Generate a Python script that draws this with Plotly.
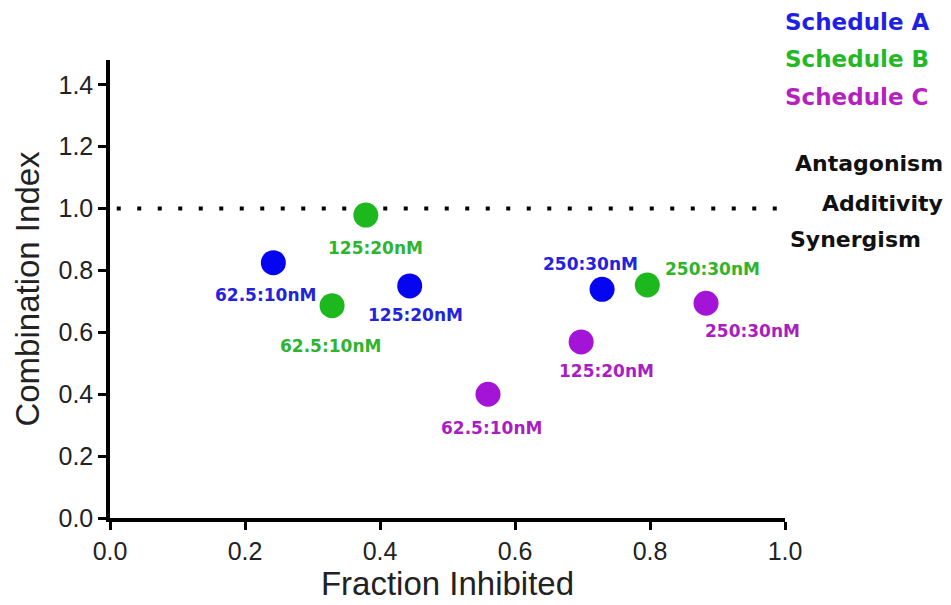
import plotly.graph_objects as go

# ---- data ----
schedules = ["Schedule A", "Schedule B", "Schedule C"]
dose_labels = ["62.5:10nM", "125:20nM", "250:30nM"]
fa_A = [0.242, 0.444, 0.729]
ci_A = [0.825, 0.750, 0.739]
fa_B = [0.329, 0.379, 0.796]
ci_B = [0.686, 0.979, 0.753]
fa_C = [0.560, 0.698, 0.883]
ci_C = [0.400, 0.569, 0.694]
additivity_ci = 1.0
x_ticks = [0.0, 0.2, 0.4, 0.6, 0.8, 1.0]
y_ticks = [0.0, 0.2, 0.4, 0.6, 0.8, 1.0, 1.2, 1.4]
zones = ["Antagonism", "Additivity", "Synergism"]

# ---- styles ----
marker_colors = ["#0505F2", "#1DB81D", "#A414D6"]
label_colors = ["#2323DD", "#2FB42F", "#A91EC2"]
legend_colors = ["#1F1FE6", "#25B825", "#B61FC0"]
label_offsets = [
    [(-8, -32), (6, -29), (-12, 25)],
    [(-2, -40), (10, -33), (65, 16)],
    [(3, -34), (25, -29), (46, -28)],
]
series = [(fa_A, ci_A), (fa_B, ci_B), (fa_C, ci_C)]

fig = go.Figure()

fig.add_shape(type="line", xref="x", yref="y", x0=0.01, x1=1.0,
              y0=additivity_ci, y1=additivity_ci,
              line=dict(color="black", width=4, dash="4px,16.5px"), layer="below")

annotations = []
for i, (fa, ci) in enumerate(series):
    fig.add_trace(go.Scatter(
        x=fa, y=ci, mode="markers", name=schedules[i],
        marker=dict(size=25, color=marker_colors[i], line=dict(width=0)),
        showlegend=False, hoverinfo="skip"))
    for j, lab in enumerate(dose_labels):
        dx, dy = label_offsets[i][j]
        annotations.append(dict(
            x=fa[j], y=ci[j], xref="x", yref="y", text=lab, showarrow=False,
            xshift=dx, yshift=dy, xanchor="center", yanchor="middle",
            font=dict(family="DejaVu Sans", size=17, color=label_colors[i], weight="bold")))

# legend-like labels
legend_y = [1.084, 1.002, 0.920]
for i, s in enumerate(schedules):
    annotations.append(dict(
        x=0.997, y=legend_y[i], xref="paper", yref="paper", text=s, showarrow=False,
        xanchor="left", yanchor="middle",
        font=dict(family="DejaVu Sans", size=23, color=legend_colors[i], weight="bold")))

zone_x = [1.237, 1.237, 1.0044]
zone_anchor = ["right", "right", "left"]
zone_y = [0.775, 0.687, 0.607]
for i, z in enumerate(zones):
    annotations.append(dict(
        x=zone_x[i], y=zone_y[i], xref="paper", yref="paper", text=z, showarrow=False,
        xanchor=zone_anchor[i], yanchor="middle",
        font=dict(family="DejaVu Sans", size=22, color="#111111", weight="bold")))

axis_font = dict(family="Liberation Sans", size=25, color="#222222")
fig.update_layout(
    width=951, height=605,
    margin=dict(l=110, r=166, t=60, b=82),
    paper_bgcolor="white", plot_bgcolor="white",
    annotations=annotations,
    xaxis=dict(range=[0, 1.0], tickvals=x_ticks, ticktext=[f"{v:.1f}" for v in x_ticks],
               showgrid=False, zeroline=False, showline=True, linecolor="black",
               linewidth=4, ticks="outside", ticklen=8, tickwidth=3, tickcolor="black",
               tickfont=axis_font,
               title=dict(text="Fraction Inhibited", standoff=5,
                          font=dict(family="Liberation Sans", size=33, color="#222222"))),
    yaxis=dict(range=[0, 1.48], tickvals=y_ticks, ticktext=[f"{v:.1f}" for v in y_ticks],
               showgrid=False, zeroline=False, showline=True, linecolor="black",
               linewidth=3.5, ticks="outside", ticklen=8, tickwidth=3, tickcolor="black",
               tickfont=axis_font,
               title=dict(text="Combination Index", standoff=10,
                          font=dict(family="Liberation Sans", size=33, color="#222222"))),
)

fig.write_html("out.html")
